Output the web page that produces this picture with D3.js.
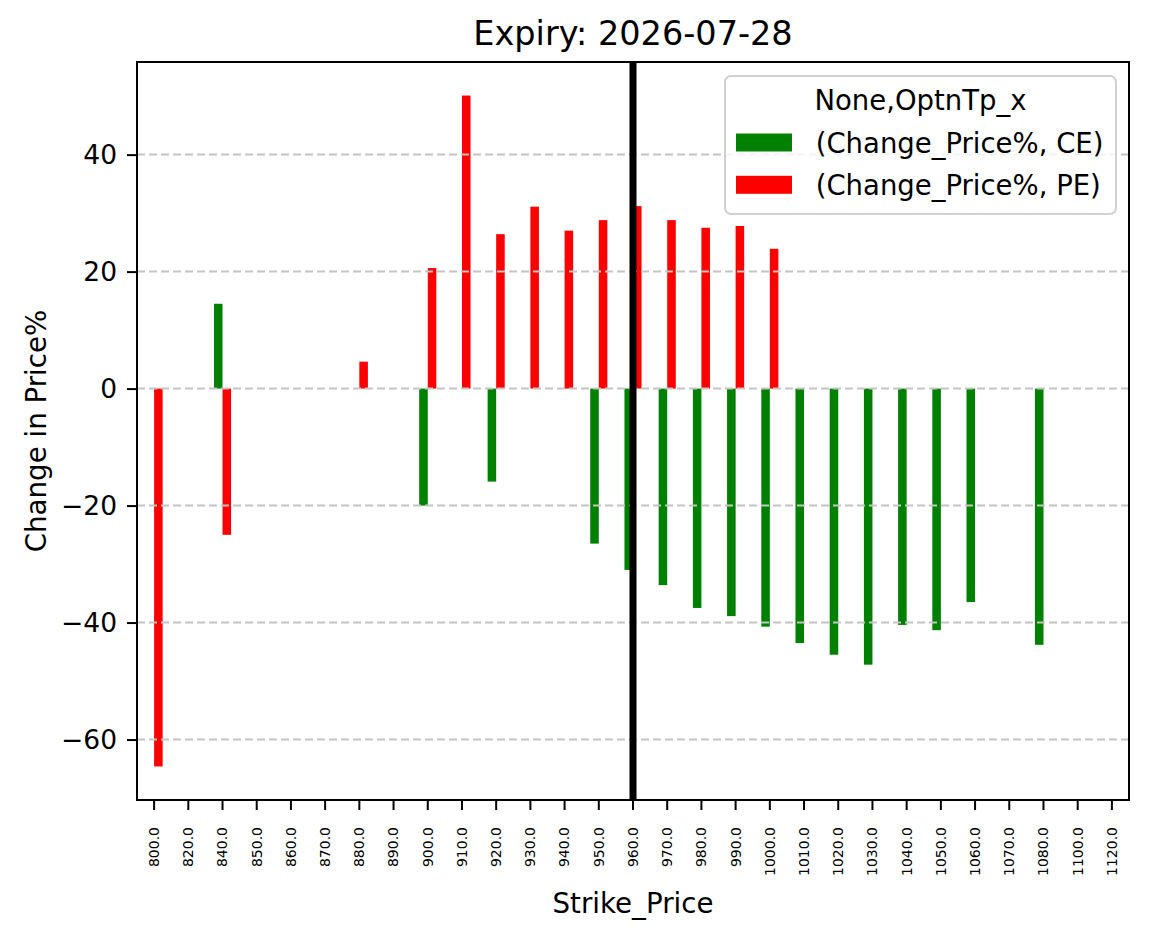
<!DOCTYPE html>
<html>
<head>
<meta charset="utf-8">
<script src="https://cdn.jsdelivr.net/npm/d3@7"></script>
<style>
  body { margin: 0; background: #fff; }
  text { font-family: "DejaVu Sans", sans-serif; fill: #000; }
</style>
</head>
<body>
<div id="chart"></div>
<script>
// strike prices on the x axis
var strikes = ["800.0", "820.0", "840.0", "850.0", "860.0", "870.0", "880.0", "890.0",
  "900.0", "910.0", "920.0", "930.0", "940.0", "950.0", "960.0", "970.0", "980.0",
  "990.0", "1000.0", "1010.0", "1020.0", "1030.0", "1040.0", "1050.0", "1060.0",
  "1070.0", "1080.0", "1100.0", "1120.0"];

// (Change_Price%, CE)
var ceValues = [null, null, 14.5, null, null, null, null, null,
  -20.0, null, -15.9, null, null, -26.5, -31.0, -33.6, -37.5,
  -38.9, -40.7, -43.5, -45.5, -47.2, -40.4, -41.3, -36.5,
  null, -43.8, null, null];

// (Change_Price%, PE)
var peValues = [-64.6, null, -25.0, null, null, null, 4.6, null,
  20.6, 50.1, 26.4, 31.1, 27.0, 28.8, 31.2, 28.8, 27.5,
  27.8, 23.9, null, null, null, null, null, null,
  null, null, null, null];

var yTicks = [-60, -40, -20, 0, 20, 40];
var spotStrike = "960.0";
var title = "Expiry: 2026-07-28";

var seriesNames = ["(Change_Price%, CE)", "(Change_Price%, PE)"];
var seriesColors = ["green", "red"];

function drawChart() {
  var fullWidth = 1149,
    fullHeight = 939,
    left = 137,
    right = 1129,
    top = 62,
    bottom = 800;

  var svg = d3.select("#chart").append("svg")
      .attr("width", fullWidth)
      .attr("height", fullHeight)
      .style("background", "#fff");

  // x: one band per strike, no padding (like pandas bar plot)
  var x = d3.scaleBand()
      .domain(strikes)
      .range([left, right])
      .paddingInner(0)
      .paddingOuter(0);
  var bw = x.bandwidth();

  // y: matplotlib style 5% margins
  var allVals = ceValues.concat(peValues).filter(function(v) { return v != null; });
  var lo = Math.min(0, d3.min(allVals)),
    hi = Math.max(0, d3.max(allVals)),
    pad = (hi - lo) * 0.05;
  var y = d3.scaleLinear()
      .domain([lo - pad, hi + pad])
      .range([bottom, top]);

  var series = [ceValues, peValues];

  // bars, 0.25 band wide each, side by side around tick
  series.forEach(function(vals, si) {
    svg.append("g")
      .selectAll("rect")
      .data(vals.map(function(v, i) { return {v: v, s: strikes[i]}; })
        .filter(function(d) { return d.v != null; }))
      .enter().append("rect")
      .attr("x", function(d) { return x(d.s) + bw / 2 - bw * 0.25 + si * bw * 0.25; })
      .attr("width", bw * 0.25)
      .attr("y", function(d) { return y(Math.max(0, d.v)); })
      .attr("height", function(d) { return Math.abs(y(d.v) - y(0)); })
      .style("fill", seriesColors[si]);
  });

  // dashed horizontal grid (drawn above bars)
  svg.append("g")
    .selectAll("line")
    .data(yTicks)
    .enter().append("line")
    .attr("x1", left)
    .attr("x2", right)
    .attr("y1", function(d) { return y(d); })
    .attr("y2", function(d) { return y(d); })
    .style("stroke", "#c4c4c4")
    .style("stroke-width", 2)
    .style("stroke-dasharray", "8,4");

  // spot strike line
  svg.append("line")
    .attr("x1", x(spotStrike) + bw / 2)
    .attr("x2", x(spotStrike) + bw / 2)
    .attr("y1", top)
    .attr("y2", bottom)
    .style("stroke", "#000")
    .style("stroke-width", 7);

  // x axis
  var xAxis = svg.append("g")
    .attr("transform", "translate(0," + bottom + ")")
    .call(d3.axisBottom(x).tickSize(10).tickSizeOuter(0));
  xAxis.select(".domain").remove();
  xAxis.selectAll(".tick line").style("stroke-width", 2);
  xAxis.selectAll("text")
    .attr("transform", "rotate(-90)")
    .attr("x", -27)
    .attr("y", 0)
    .attr("dy", "0.35em")
    .style("text-anchor", "end")
    .style("font-size", "14px")
    .style("font-family", "DejaVu Sans");

  // y axis
  var yAxis = svg.append("g")
    .attr("transform", "translate(" + left + ",0)")
    .call(d3.axisLeft(y).tickValues(yTicks).tickSize(10).tickPadding(10).tickSizeOuter(0));
  yAxis.select(".domain").remove();
  yAxis.selectAll(".tick line").style("stroke-width", 2);
  yAxis.selectAll("text")
    .style("font-size", "26.5px")
    .style("font-family", "DejaVu Sans");

  // frame
  svg.append("rect")
    .attr("x", left)
    .attr("y", top)
    .attr("width", right - left)
    .attr("height", bottom - top)
    .style("fill", "none")
    .style("stroke", "#000")
    .style("stroke-width", 2);

  // title and labels
  svg.append("text")
    .attr("x", (left + right) / 2)
    .attr("y", 45)
    .attr("text-anchor", "middle")
    .style("font-size", "33.5px")
    .text(title);

  svg.append("text")
    .attr("x", (left + right) / 2)
    .attr("y", 913)
    .attr("text-anchor", "middle")
    .style("font-size", "27.7px")
    .text("Strike_Price");

  svg.append("text")
    .attr("transform", "translate(46," + (top + bottom) / 2 + ") rotate(-90)")
    .attr("text-anchor", "middle")
    .style("font-size", "27.7px")
    .text("Change in Price%");

  // legend
  var legend = svg.append("g");
  legend.append("rect")
    .attr("x", 725)
    .attr("y", 76)
    .attr("width", 391)
    .attr("height", 138)
    .attr("rx", 6)
    .style("fill", "#fff")
    .style("fill-opacity", 0.8)
    .style("stroke", "#d0d0d0")
    .style("stroke-width", 2);
  legend.append("text")
    .attr("x", 920.5)
    .attr("y", 110)
    .attr("text-anchor", "middle")
    .style("font-size", "27.5px")
    .text("None,OptnTp_x");

  var item = legend.selectAll(".item")
    .data(seriesNames)
    .enter().append("g")
    .attr("class", "item")
    .attr("transform", function(d, i) { return "translate(0," + (i * 42.3) + ")"; });
  item.append("rect")
    .attr("x", 736)
    .attr("y", 133.5)
    .attr("width", 56)
    .attr("height", 18)
    .style("fill", function(d, i) { return seriesColors[i]; });
  item.append("text")
    .attr("x", 815.7)
    .attr("y", 152.7)
    .style("font-size", "27.5px")
    .text(function(d) { return d; });
}

drawChart();
</script>
</body>
</html>
